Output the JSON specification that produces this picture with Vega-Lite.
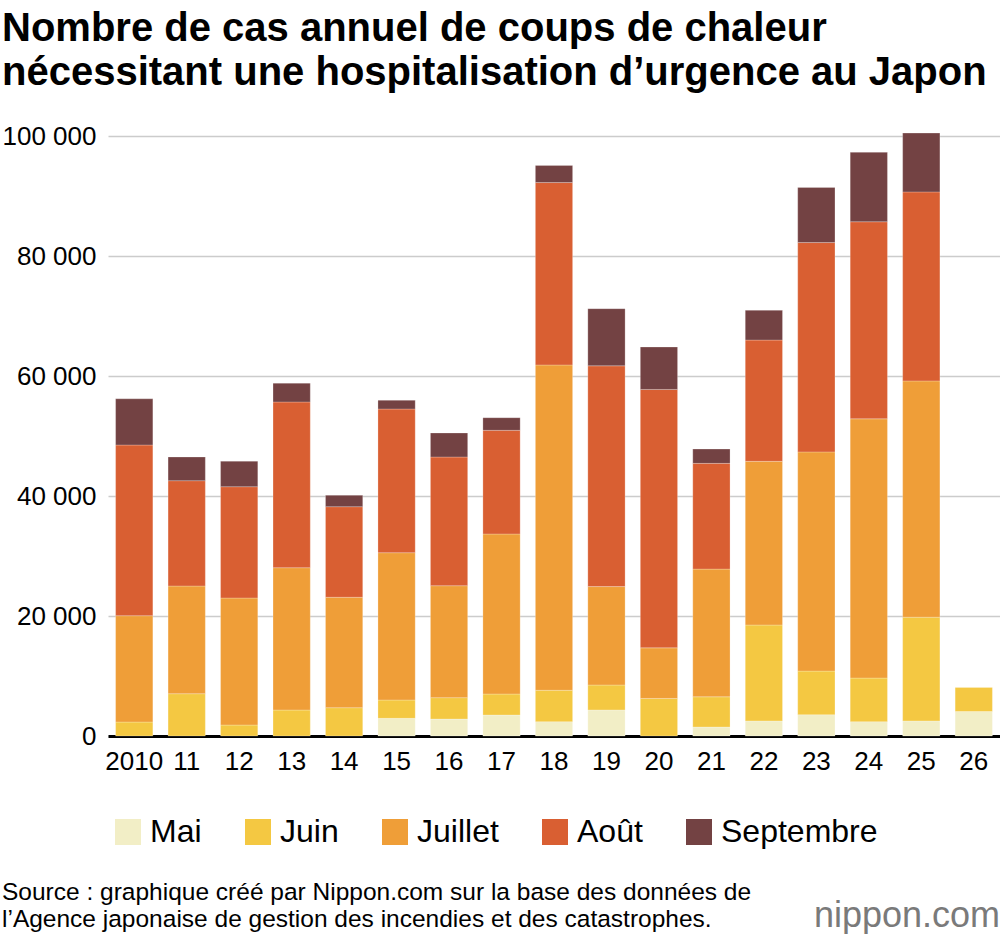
{
  "$schema": "https://vega.github.io/schema/vega-lite/v6.json",
  "background": "white",
  "padding": {"left": 2, "top": 9, "right": 0, "bottom": 0},
  "config": {
    "font": "Liberation Sans",
    "view": {"stroke": null},
    "concat": {"spacing": 0},
    "legend": {"layout": {"bottom": {"anchor": "start"}}}
  },
  "title": {
    "text": "nippon.com",
    "orient": "bottom",
    "anchor": "end",
    "frame": "bounds",
    "font": "Liberation Sans",
    "fontSize": 36,
    "fontWeight": "normal",
    "color": "#7a7a7a",
    "offset": -33
  },
  "vconcat": [
    {
      "title": {
        "text": [
          "Source : graphique créé par Nippon.com sur la base des données de",
          "l’Agence japonaise de gestion des incendies et des catastrophes."
        ],
        "orient": "bottom",
        "anchor": "start",
        "frame": "bounds",
        "fontSize": 24.5,
        "fontWeight": "normal",
        "lineHeight": 27,
        "color": "black",
        "offset": 29
      },
      "resolve": {"scale": {"color": "independent"}, "legend": {"color": "independent"}},
      "vconcat": [
        {
          "title": {
            "text": [
              "Nombre de cas annuel de coups de chaleur",
              "nécessitant une hospitalisation d’urgence au Japon"
            ],
            "anchor": "start",
            "frame": "bounds",
            "fontSize": 40,
            "fontWeight": "bold",
            "lineHeight": 44,
            "color": "black",
            "offset": 30
          },
          "width": 892,
          "height": 600,
          "data": {
            "values": [
              {"year": 2010, "month": "Juin", "m": 2, "cases": 2330},
              {"year": 2010, "month": "Juillet", "m": 3, "cases": 17720},
              {"year": 2010, "month": "Août", "m": 4, "cases": 28450},
              {"year": 2010, "month": "Septembre", "m": 5, "cases": 7700},
              {"year": 2011, "month": "Juin", "m": 2, "cases": 7050},
              {"year": 2011, "month": "Juillet", "m": 3, "cases": 17950},
              {"year": 2011, "month": "Août", "m": 4, "cases": 17550},
              {"year": 2011, "month": "Septembre", "m": 5, "cases": 3950},
              {"year": 2012, "month": "Juin", "m": 2, "cases": 1830},
              {"year": 2012, "month": "Juillet", "m": 3, "cases": 21170},
              {"year": 2012, "month": "Août", "m": 4, "cases": 18550},
              {"year": 2012, "month": "Septembre", "m": 5, "cases": 4250},
              {"year": 2013, "month": "Juin", "m": 2, "cases": 4330},
              {"year": 2013, "month": "Juillet", "m": 3, "cases": 23720},
              {"year": 2013, "month": "Août", "m": 4, "cases": 27620},
              {"year": 2013, "month": "Septembre", "m": 5, "cases": 3130},
              {"year": 2014, "month": "Juin", "m": 2, "cases": 4720},
              {"year": 2014, "month": "Juillet", "m": 3, "cases": 18400},
              {"year": 2014, "month": "Août", "m": 4, "cases": 15100},
              {"year": 2014, "month": "Septembre", "m": 5, "cases": 1900},
              {"year": 2015, "month": "Mai", "m": 1, "cases": 2950},
              {"year": 2015, "month": "Juin", "m": 2, "cases": 3050},
              {"year": 2015, "month": "Juillet", "m": 3, "cases": 24550},
              {"year": 2015, "month": "Août", "m": 4, "cases": 23950},
              {"year": 2015, "month": "Septembre", "m": 5, "cases": 1450},
              {"year": 2016, "month": "Mai", "m": 1, "cases": 2830},
              {"year": 2016, "month": "Juin", "m": 2, "cases": 3560},
              {"year": 2016, "month": "Juillet", "m": 3, "cases": 18660},
              {"year": 2016, "month": "Août", "m": 4, "cases": 21450},
              {"year": 2016, "month": "Septembre", "m": 5, "cases": 4000},
              {"year": 2017, "month": "Mai", "m": 1, "cases": 3500},
              {"year": 2017, "month": "Juin", "m": 2, "cases": 3500},
              {"year": 2017, "month": "Juillet", "m": 3, "cases": 26670},
              {"year": 2017, "month": "Août", "m": 4, "cases": 17280},
              {"year": 2017, "month": "Septembre", "m": 5, "cases": 2100},
              {"year": 2018, "month": "Mai", "m": 1, "cases": 2380},
              {"year": 2018, "month": "Juin", "m": 2, "cases": 5240},
              {"year": 2018, "month": "Juillet", "m": 3, "cases": 54220},
              {"year": 2018, "month": "Août", "m": 4, "cases": 30400},
              {"year": 2018, "month": "Septembre", "m": 5, "cases": 2860},
              {"year": 2019, "month": "Mai", "m": 1, "cases": 4350},
              {"year": 2019, "month": "Juin", "m": 2, "cases": 4150},
              {"year": 2019, "month": "Juillet", "m": 3, "cases": 16400},
              {"year": 2019, "month": "Août", "m": 4, "cases": 36800},
              {"year": 2019, "month": "Septembre", "m": 5, "cases": 9520},
              {"year": 2020, "month": "Juin", "m": 2, "cases": 6260},
              {"year": 2020, "month": "Juillet", "m": 3, "cases": 8430},
              {"year": 2020, "month": "Août", "m": 4, "cases": 43070},
              {"year": 2020, "month": "Septembre", "m": 5, "cases": 7070},
              {"year": 2021, "month": "Mai", "m": 1, "cases": 1500},
              {"year": 2021, "month": "Juin", "m": 2, "cases": 5030},
              {"year": 2021, "month": "Juillet", "m": 3, "cases": 21290},
              {"year": 2021, "month": "Août", "m": 4, "cases": 17620},
              {"year": 2021, "month": "Septembre", "m": 5, "cases": 2380},
              {"year": 2022, "month": "Mai", "m": 1, "cases": 2520},
              {"year": 2022, "month": "Juin", "m": 2, "cases": 15980},
              {"year": 2022, "month": "Juillet", "m": 3, "cases": 27280},
              {"year": 2022, "month": "Août", "m": 4, "cases": 20210},
              {"year": 2022, "month": "Septembre", "m": 5, "cases": 4960},
              {"year": 2023, "month": "Mai", "m": 1, "cases": 3540},
              {"year": 2023, "month": "Juin", "m": 2, "cases": 7280},
              {"year": 2023, "month": "Juillet", "m": 3, "cases": 36530},
              {"year": 2023, "month": "Août", "m": 4, "cases": 34890},
              {"year": 2023, "month": "Septembre", "m": 5, "cases": 9190},
              {"year": 2024, "month": "Mai", "m": 1, "cases": 2380},
              {"year": 2024, "month": "Juin", "m": 2, "cases": 7280},
              {"year": 2024, "month": "Juillet", "m": 3, "cases": 43200},
              {"year": 2024, "month": "Août", "m": 4, "cases": 32850},
              {"year": 2024, "month": "Septembre", "m": 5, "cases": 11570},
              {"year": 2025, "month": "Mai", "m": 1, "cases": 2520},
              {"year": 2025, "month": "Juin", "m": 2, "cases": 17280},
              {"year": 2025, "month": "Juillet", "m": 3, "cases": 39380},
              {"year": 2025, "month": "Août", "m": 4, "cases": 31500},
              {"year": 2025, "month": "Septembre", "m": 5, "cases": 9800},
              {"year": 2026, "month": "Mai", "m": 1, "cases": 4080},
              {"year": 2026, "month": "Juin", "m": 2, "cases": 4020}
            ]
          },
          "mark": {"type": "bar", "stroke": "white", "strokeWidth": 0.4, "strokeOpacity": 0.6},
          "encoding": {
            "x": {
              "field": "year",
              "type": "ordinal",
              "title": null,
              "scale": {"paddingInner": 0.29, "paddingOuter": 0.145},
              "axis": {
                "labelAngle": 0,
                "labelExpr": "datum.value == 2010 ? '2010' : slice(datum.label, 2)",
                "labelFontSize": 26,
                "labelColor": "black",
                "labelPadding": 12,
                "ticks": false,
                "domainColor": "black",
                "domainWidth": 3
              }
            },
            "y": {
              "field": "cases",
              "type": "quantitative",
              "aggregate": "sum",
              "stack": "zero",
              "title": null,
              "scale": {"domain": [0, 100000], "nice": false},
              "axis": {
                "values": [0, 20000, 40000, 60000, 80000, 100000],
                "labelExpr": "replace(format(datum.value, ','), ',', ' ')",
                "labelFontSize": 26,
                "labelColor": "black",
                "labelPadding": 12,
                "ticks": false,
                "domain": false,
                "gridColor": "#cccccc",
                "gridWidth": 1.5
              }
            },
            "color": {
              "field": "month",
              "type": "nominal",
              "scale": {
                "domain": ["Mai", "Juin", "Juillet", "Août", "Septembre"],
                "range": ["#f2eec6", "#f4c842", "#ef9e38", "#d95f32", "#734243"]
              },
              "legend": {
                "title": null,
                "orient": "bottom",
                "direction": "horizontal",
                "symbolType": "square",
                "symbolSize": 676,
                "symbolStrokeWidth": 0,
                "symbolOpacity": 1,
                "labelFontSize": 32,
                "labelColor": "black",
                "labelOffset": 6,
                "columnPadding": 40,
                "padding": 4,
                "offset": 38
              }
            },
            "order": {"field": "m", "type": "quantitative", "sort": "ascending"}
          }
        }
      ]
    }
  ]
}
